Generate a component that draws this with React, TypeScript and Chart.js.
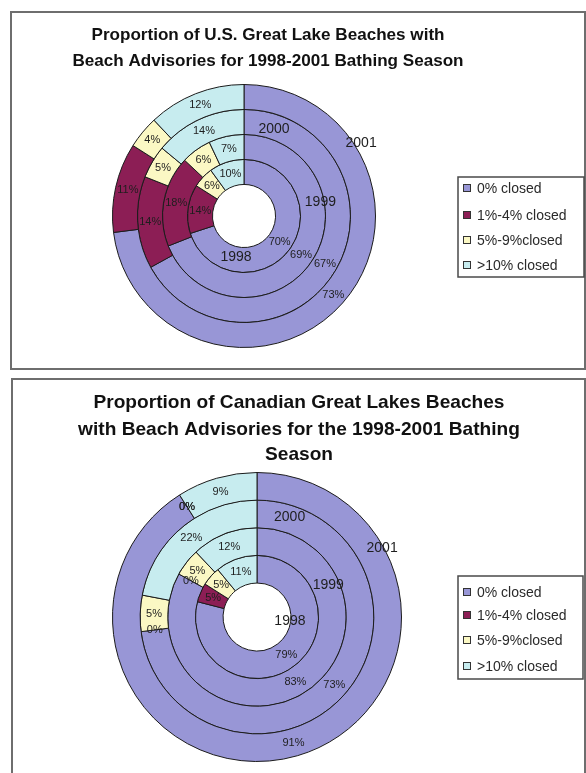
import React, { useEffect, useRef } from "react";
import { Chart, registerables } from "chart.js";

Chart.register(...registerables);

// ---------- data ----------
const categories = ["0% closed", "1%-4% closed", "5%-9%closed", ">10% closed"];
const years = ["1998", "1999", "2000", "2001"];

const us1998 = [70, 14, 6, 10];
const us1999 = [69, 18, 6, 7];
const us2000 = [67, 14, 5, 14];
const us2001 = [73, 11, 4, 12];

const ca1998 = [79, 5, 5, 11];
const ca1999 = [83, 0, 5, 12];
const ca2000 = [73, 0, 5, 22];
const ca2001 = [91, 0, 0, 9];

const usTitle = [
  "Proportion of U.S. Great Lake Beaches with",
  "Beach Advisories for 1998-2001 Bathing Season",
];
const caTitle = [
  "Proportion of Canadian Great Lakes Beaches",
  "with Beach Advisories for the 1998-2001 Bathing",
  "Season",
];

// ---------- styles ----------
const colors = ["#9896d6", "#8c1e55", "#fbf8c4", "#c7ecef"];
const FONT = "'Liberation Sans', Arial, Helvetica, sans-serif";

type Cfg = {
  width: number;
  height: number;
  series: number[][]; // inner (1998) to outer (2001)
  title: string[];
  titleX: number;
  titleY: number[];
  titleFitWidth: number;
  titleFitLine: number;
  box: [number, number, number, number];
  cx: number;
  cy: number;
  radius: number;
  cutout: string;
  legendBox: [number, number, number, number];
  legendY: number[];
  seriesLabelPos: [number, number][]; // [angle deg clockwise from top, fraction of outer radius]
};

function makeChart(canvas: HTMLCanvasElement, cfg: Cfg) {
  const outerFirst = cfg.series.slice().reverse();
  const yearsOuterFirst = years.slice().reverse();

  const decor = {
    id: "decor",
    beforeDraw(chart: any) {
      const ctx = chart.ctx;
      ctx.save();
      ctx.fillStyle = "#ffffff";
      ctx.fillRect(0, 0, chart.width, chart.height);
      const [bx, by, bw, bh] = cfg.box;
      ctx.strokeStyle = "#6e6e6e";
      ctx.lineWidth = 2;
      ctx.strokeRect(bx, by, bw, bh);
      ctx.restore();
    },
    afterDatasetsDraw(chart: any) {
      const ctx = chart.ctx;
      ctx.save();
      ctx.fillStyle = "#1e1e1e";
      ctx.textAlign = "center";
      ctx.textBaseline = "middle";
      ctx.font = `11px ${FONT}`;
      chart.data.datasets.forEach((ds: any, i: number) => {
        const meta = chart.getDatasetMeta(i);
        meta.data.forEach((arc: any, j: number) => {
          const p = arc.tooltipPosition(false);
          ctx.fillText(`${ds.data[j]}%`, p.x, p.y);
        });
      });
      // series name labels
      const outerArc = chart.getDatasetMeta(0).data[0];
      const R = outerArc.outerRadius;
      ctx.font = `14px ${FONT}`;
      years.forEach((y, k) => {
        const [deg, frac] = cfg.seriesLabelPos[k];
        const a = ((deg - 90) * Math.PI) / 180;
        ctx.fillText(y, outerArc.x + Math.cos(a) * R * frac, outerArc.y + Math.sin(a) * R * frac);
      });
      ctx.restore();
    },
    afterDraw(chart: any) {
      const ctx = chart.ctx;
      ctx.save();
      // title
      ctx.font = `bold 16px ${FONT}`;
      const w16 = ctx.measureText(cfg.title[cfg.titleFitLine]).width;
      const size = (16 * cfg.titleFitWidth) / w16;
      ctx.font = `bold ${size.toFixed(2)}px ${FONT}`;
      ctx.fillStyle = "#111111";
      ctx.textAlign = "center";
      ctx.textBaseline = "middle";
      cfg.title.forEach((line, k) => ctx.fillText(line, cfg.titleX, cfg.titleY[k]));
      // legend
      const [lx, ly, lw, lh] = cfg.legendBox;
      ctx.strokeStyle = "#4a4a4a";
      ctx.lineWidth = 1.5;
      ctx.strokeRect(lx, ly, lw, lh);
      ctx.font = `14px ${FONT}`;
      ctx.textAlign = "left";
      categories.forEach((c, k) => {
        const yy = cfg.legendY[k];
        ctx.fillStyle = colors[k];
        ctx.fillRect(lx + 5, yy - 4, 8, 8);
        ctx.strokeStyle = "#333333";
        ctx.lineWidth = 1;
        ctx.strokeRect(lx + 5.5, yy - 3.5, 7, 7);
        ctx.fillStyle = "#2a2a2a";
        ctx.fillText(c, lx + 19, yy + 1);
      });
      ctx.restore();
    },
  };

  return new Chart(canvas, {
    type: "doughnut",
    data: {
      labels: categories,
      datasets: outerFirst.map((vals, k) => ({
        label: yearsOuterFirst[k],
        data: vals,
        backgroundColor: colors,
        borderColor: "#1c1c1c",
        borderWidth: 1,
      })),
    },
    options: {
      responsive: false,
      animation: false,
      devicePixelRatio: 1,
      cutout: cfg.cutout,
      rotation: 0,
      circumference: 360,
      layout: {
        padding: {
          left: cfg.cx - cfg.radius,
          right: cfg.width - cfg.cx - cfg.radius,
          top: cfg.cy - cfg.radius,
          bottom: cfg.height - cfg.cy - cfg.radius,
        },
      },
      plugins: {
        legend: { display: false },
        title: { display: false },
        tooltip: { enabled: false },
      },
    } as any,
    plugins: [decor],
  });
}

const usCfg: Cfg = {
  width: 586,
  height: 375,
  series: [us1998, us1999, us2000, us2001],
  title: usTitle,
  titleX: 268,
  titleY: [35, 61],
  titleFitWidth: 391,
  titleFitLine: 1,
  box: [11, 12, 574, 357],
  cx: 244,
  cy: 216,
  radius: 132,
  cutout: "24%",
  legendBox: [458, 177, 126, 100],
  legendY: [188, 215, 240, 265],
  seriesLabelPos: [
    [191, 0.32],
    [80, 0.59],
    [19, 0.7],
    [58, 1.05],
  ],
};

const caCfg: Cfg = {
  width: 586,
  height: 398,
  series: [ca1998, ca1999, ca2000, ca2001],
  title: caTitle,
  titleX: 299,
  titleY: [28, 55, 80],
  titleFitWidth: 442,
  titleFitLine: 1,
  box: [12, 4, 573, 420],
  cx: 257,
  cy: 242,
  radius: 145,
  cutout: "23.5%",
  legendBox: [458, 201, 125, 103],
  legendY: [217, 240, 265, 291],
  seriesLabelPos: [
    [98, 0.23],
    [66, 0.54],
    [18, 0.73],
    [61, 0.99],
  ],
};

export default function App() {
  const topRef = useRef<HTMLCanvasElement>(null);
  const botRef = useRef<HTMLCanvasElement>(null);

  useEffect(() => {
    const a = makeChart(topRef.current!, usCfg);
    const b = makeChart(botRef.current!, caCfg);
    return () => {
      a.destroy();
      b.destroy();
    };
  }, []);

  return (
    <div
      style={{
        position: "absolute",
        left: 0,
        top: 0,
        width: 586,
        height: 773,
        background: "#ffffff",
        overflow: "hidden",
      }}
    >
      <canvas
        ref={topRef}
        width={586}
        height={375}
        style={{ position: "absolute", left: 0, top: 0, width: 586, height: 375 }}
      />
      <canvas
        ref={botRef}
        width={586}
        height={398}
        style={{ position: "absolute", left: 0, top: 375, width: 586, height: 398 }}
      />
    </div>
  );
}
